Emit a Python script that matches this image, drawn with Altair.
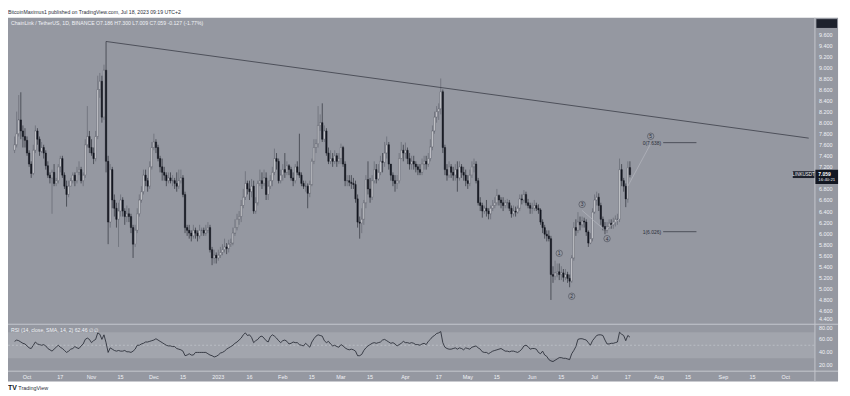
import altair as alt
import pandas as pd

# ---------------- data (LINK/USDT, 1D) ----------------
first_open = 7.50

close_sep = [7.60, 7.80, 8.05, 7.85, 7.75, 7.68]
high_sep = [7.75, 8.20, 8.50, 8.55, 7.95, 7.90]
low_sep = [7.45, 7.55, 7.75, 7.70, 7.55, 7.55]

close_oct = [7.45, 7.25, 7.08, 7.50, 7.85, 7.70, 7.48, 7.55, 7.45, 7.22, 7.05, 7.00, 7.10, 6.90, 6.95, 7.20,
             7.35, 7.05, 6.85, 6.70, 6.85, 6.95, 7.05, 6.95, 7.10, 7.15, 6.95, 7.05, 7.60, 7.75, 7.55]
high_oct = [7.75, 7.50, 7.30, 7.60, 7.95, 7.90, 7.75, 7.65, 7.60, 7.50, 7.30, 7.10, 7.15, 7.25, 7.00, 7.25,
            7.40, 7.40, 7.10, 6.95, 6.95, 7.00, 7.10, 7.10, 7.20, 7.30, 7.20, 7.10, 7.70, 8.30, 7.85]
low_oct = [7.40, 7.20, 7.00, 7.05, 7.45, 7.60, 7.40, 7.45, 7.35, 7.15, 7.00, 6.90, 6.35, 6.85, 6.85, 6.90,
           7.10, 7.00, 6.80, 6.48, 6.65, 6.85, 6.90, 6.85, 6.90, 7.05, 6.90, 6.85, 7.00, 7.55, 7.45]

close_nov = [7.45, 7.35, 7.75, 8.60, 8.75, 8.10, 8.95, 7.30, 6.20, 7.15, 6.60, 6.45, 6.25, 6.40, 6.60,
             6.40, 6.30, 6.35, 6.30, 6.10, 5.80, 6.05, 6.35, 6.60, 6.75, 7.05, 6.95, 6.85, 7.20, 7.55]
high_nov = [7.70, 7.55, 7.85, 8.85, 8.90, 8.85, 9.05, 9.47, 7.40, 7.25, 7.20, 6.70, 6.55, 6.55, 6.70,
            6.65, 6.45, 6.50, 6.45, 6.35, 6.15, 6.15, 6.45, 6.70, 6.85, 7.15, 7.15, 7.00, 7.30, 7.65]
low_nov = [7.40, 7.25, 7.30, 7.70, 8.45, 8.00, 8.05, 7.10, 5.80, 6.10, 6.45, 6.30, 6.10, 5.75, 6.30,
           6.30, 6.15, 6.20, 6.20, 6.00, 5.55, 5.75, 6.00, 6.30, 6.55, 6.70, 6.85, 6.75, 6.80, 7.15]

close_dec = [7.65, 7.55, 7.35, 7.20, 7.10, 7.05, 6.95, 7.00, 6.95, 6.95, 6.90, 6.85, 6.95, 7.00, 6.70, 6.10,
             6.05, 6.00, 5.95, 6.05, 6.00, 5.95, 6.05, 6.05, 6.00, 6.05, 6.10, 5.70, 5.55, 5.60, 5.55]
high_dec = [7.80, 7.70, 7.60, 7.40, 7.35, 7.20, 7.10, 7.10, 7.10, 7.05, 7.00, 7.10, 7.15, 7.15, 7.05, 6.75,
            6.15, 6.15, 6.05, 6.15, 6.10, 6.05, 6.15, 6.10, 6.10, 6.15, 6.20, 6.15, 5.75, 5.70, 5.65]
low_dec = [7.50, 7.45, 7.30, 7.10, 6.95, 6.95, 6.85, 6.90, 6.90, 6.85, 6.80, 6.75, 6.80, 6.90, 6.65, 6.00,
           5.95, 5.90, 5.85, 5.90, 5.90, 5.85, 5.90, 5.95, 5.95, 5.95, 6.00, 5.65, 5.42, 5.45, 5.45]

close_jan = [5.60, 5.65, 5.70, 5.75, 5.72, 5.80, 5.82, 6.00, 6.10, 6.25, 6.30, 6.50, 6.65, 6.90, 6.80, 6.75,
             6.85, 6.40, 6.55, 6.90, 6.95, 6.90, 7.00, 6.70, 6.85, 6.95, 7.10, 7.35, 7.30, 6.95, 7.05]
high_jan = [5.70, 5.75, 5.80, 5.90, 5.82, 5.88, 5.90, 6.10, 6.25, 6.35, 6.40, 6.60, 6.80, 7.12, 6.95, 6.95,
            6.98, 6.95, 6.65, 6.95, 7.15, 7.10, 7.15, 7.10, 6.95, 7.05, 7.20, 7.53, 7.45, 7.35, 7.15]
low_jan = [5.50, 5.55, 5.60, 5.65, 5.62, 5.65, 5.75, 5.78, 5.95, 6.05, 6.15, 6.20, 6.45, 6.60, 6.70, 6.60,
           6.65, 6.35, 6.35, 6.50, 6.85, 6.80, 6.85, 6.60, 6.60, 6.80, 6.85, 7.05, 7.15, 6.90, 6.90]

close_feb = [7.15, 7.10, 7.22, 7.15, 7.00, 6.95, 7.20, 7.10, 7.05, 6.90, 6.85, 6.85, 6.72, 6.88, 7.30, 7.55,
             7.62, 7.95, 8.00, 7.70, 7.85, 7.45, 7.30, 7.35, 7.30, 7.40, 7.30, 7.35]
high_feb = [7.25, 7.45, 7.30, 7.25, 7.20, 7.10, 7.25, 7.30, 7.80, 7.10, 6.95, 6.95, 6.90, 6.95, 7.35, 7.70,
            7.70, 8.30, 8.15, 8.35, 7.95, 7.90, 7.55, 7.50, 7.45, 7.50, 7.45, 7.45]
low_feb = [6.95, 7.00, 7.05, 7.05, 6.95, 6.85, 6.90, 7.05, 7.00, 6.85, 6.80, 6.75, 6.45, 6.65, 6.85, 7.25,
           7.45, 7.55, 7.85, 7.65, 7.65, 7.40, 7.25, 7.25, 7.20, 7.25, 7.20, 7.25]

close_mar = [7.55, 7.25, 6.95, 6.95, 6.92, 6.90, 6.88, 6.62, 6.20, 6.18, 6.25, 6.55, 6.97, 6.80, 6.65, 6.95,
             7.15, 6.98, 7.10, 7.30, 7.28, 7.45, 7.60, 7.25, 7.05, 6.95, 6.90, 6.95, 7.35, 7.50, 7.45]
high_mar = [7.62, 7.58, 7.30, 7.05, 7.05, 7.05, 7.00, 6.95, 6.70, 6.30, 6.45, 6.60, 7.05, 7.30, 7.00, 7.05,
            7.30, 7.25, 7.25, 7.40, 7.45, 7.65, 7.75, 7.65, 7.25, 7.10, 7.05, 7.05, 7.45, 7.65, 7.60]
low_mar = [7.25, 7.20, 6.85, 6.85, 6.85, 6.80, 6.80, 6.55, 6.10, 5.90, 6.00, 6.15, 6.45, 6.70, 6.55, 6.60,
           6.90, 6.90, 6.95, 7.05, 7.10, 7.20, 7.35, 7.15, 6.95, 6.85, 6.75, 6.80, 6.90, 7.35, 7.30]

close_apr = [7.50, 7.35, 7.25, 7.30, 7.25, 7.20, 7.15, 7.10, 7.25, 7.30, 7.25, 7.35, 7.56, 7.85, 8.10, 8.20,
             8.25, 8.56, 7.55, 7.15, 7.05, 7.20, 7.10, 7.05, 7.15, 7.00, 7.20, 7.10, 7.05, 6.95]
high_apr = [7.64, 7.55, 7.45, 7.40, 7.40, 7.30, 7.25, 7.25, 7.35, 7.40, 7.40, 7.45, 7.70, 7.95, 8.20, 8.30,
            8.35, 8.80, 8.60, 7.60, 7.25, 7.30, 7.25, 7.20, 7.25, 7.30, 7.30, 7.25, 7.20, 7.15]
low_apr = [7.35, 7.25, 7.15, 7.15, 7.15, 7.10, 7.05, 7.05, 7.05, 7.15, 7.15, 7.20, 7.30, 7.50, 7.80, 8.00,
           8.05, 8.15, 7.45, 7.05, 6.95, 7.00, 7.00, 6.95, 6.95, 6.75, 6.95, 7.00, 6.95, 6.85]

close_may = [6.90, 7.05, 7.20, 7.25, 6.95, 6.55, 6.50, 6.40, 6.45, 6.40, 6.35, 6.45, 6.50, 6.55, 6.68, 6.60,
             6.55, 6.50, 6.55, 6.55, 6.45, 6.35, 6.40, 6.38, 6.45, 6.62, 6.60, 6.70, 6.55, 6.50, 6.45]
high_may = [7.05, 7.15, 7.30, 7.35, 7.30, 7.00, 6.65, 6.55, 6.50, 6.60, 6.45, 6.50, 6.60, 6.65, 6.80, 6.70,
            6.65, 6.65, 6.60, 6.62, 6.60, 6.50, 6.50, 6.48, 6.50, 6.70, 6.70, 6.78, 6.75, 6.62, 6.55]
low_may = [6.80, 6.85, 7.00, 7.10, 6.90, 6.50, 6.40, 6.28, 6.35, 6.30, 6.25, 6.25, 6.40, 6.45, 6.50, 6.50,
           6.45, 6.40, 6.45, 6.45, 6.40, 6.28, 6.30, 6.30, 6.35, 6.40, 6.52, 6.55, 6.50, 6.45, 6.35]

close_jun = [6.45, 6.50, 6.45, 6.42, 6.20, 6.10, 5.98, 5.95, 5.90, 5.25, 5.22, 5.28, 5.30, 5.25, 5.28,
             5.20, 5.25, 5.18, 5.13, 5.55, 6.10, 6.05, 6.20, 6.15, 6.22, 6.20, 6.02, 5.82, 5.90, 6.38]
high_jun = [6.55, 6.60, 6.55, 6.52, 6.45, 6.25, 6.15, 6.05, 6.05, 5.95, 5.40, 5.50, 5.45, 5.45, 5.40,
            5.35, 5.35, 5.30, 5.25, 5.60, 6.20, 6.25, 6.38, 6.30, 6.30, 6.28, 6.25, 6.05, 6.00, 6.45]
low_jun = [6.35, 6.40, 6.40, 6.35, 6.15, 6.00, 5.90, 5.85, 5.85, 4.79, 5.10, 5.15, 5.20, 5.15, 5.15,
           5.12, 5.15, 5.10, 5.02, 5.10, 5.50, 5.95, 6.00, 6.05, 6.10, 6.10, 5.95, 5.75, 5.80, 5.85]

close_jul = [6.60, 6.65, 6.50, 6.25, 6.12, 6.05, 6.12, 6.18, 6.15, 6.20, 6.25, 6.25, 7.15, 6.95, 6.85, 6.62,
             7.186, 7.059]
high_jul = [6.70, 6.75, 6.72, 6.55, 6.30, 6.20, 6.20, 6.25, 6.25, 6.28, 6.32, 6.35, 7.35, 7.25, 7.00, 6.90,
            7.30, 7.30]
low_jul = [6.35, 6.50, 6.40, 6.15, 6.05, 5.98, 6.00, 6.08, 6.08, 6.08, 6.12, 6.15, 6.20, 6.85, 6.75, 6.47,
           6.55, 7.009]

rsi_values = [
    56, 58, 57, 55, 53, 52, 49, 46, 45, 50,
    55, 52, 51, 50, 51, 49, 45, 43, 41, 44,
    47, 50, 47, 45, 42, 39, 41, 44, 45, 48,
    46, 45, 49, 52, 59, 61, 59, 54, 57, 59,
    69, 67, 59, 66, 54, 39, 46, 44, 42, 41,
    42, 41, 41, 42, 40, 40, 39, 41, 44, 50,
    50, 52, 53, 55, 55, 56, 57, 58, 60, 58,
    56, 54, 52, 50, 49, 49, 48, 48, 45, 44,
    43, 41, 34, 35, 37, 35, 35, 39, 39, 39,
    39, 39, 39, 37, 35, 34, 32, 33, 35, 38,
    39, 41, 44, 46, 48, 50, 53, 55, 58, 61,
    66, 69, 65, 66, 62, 54, 57, 59, 63, 64,
    61, 57, 55, 63, 66, 64, 61, 57, 54, 57,
    58, 56, 52, 53, 55, 54, 54, 51, 50, 49,
    53, 50, 47, 55, 60, 64, 66, 65, 64, 57,
    54, 56, 52, 49, 50, 48, 47, 51, 49, 46,
    44, 43, 44, 43, 41, 34, 34, 36, 42, 46,
    49, 51, 53, 54, 53, 54, 55, 58, 59, 57,
    55, 53, 54, 52, 49, 51, 53, 56, 54, 54,
    53, 54, 53, 51, 51, 50, 52, 53, 51, 56,
    59, 63, 65, 68, 69, 71, 54, 47, 45, 44,
    44, 45, 46, 44, 46, 45, 43, 46, 45, 44,
    47, 48, 49, 46, 44, 40, 39, 39, 37, 39,
    41, 42, 43, 44, 45, 43, 41, 41, 40, 41,
    41, 40, 39, 41, 44, 49, 50, 48, 44, 45,
    45, 44, 39, 37, 41, 35, 33, 28, 26, 25,
    27, 29, 31, 31, 30, 30, 29, 28, 37, 42,
    48, 59, 60, 60, 59, 58, 54, 50, 57, 61,
    65, 66, 66, 65, 58, 52, 52, 53, 53, 54,
    55, 70, 67, 65, 57, 65, 62.46,
]

closes = (close_sep + close_oct + close_nov + close_dec + close_jan + close_feb + close_mar
          + close_apr + close_may + close_jun + close_jul)
highs = (high_sep + high_oct + high_nov + high_dec + high_jan + high_feb + high_mar
         + high_apr + high_may + high_jun + high_jul)
lows = (low_sep + low_oct + low_nov + low_dec + low_jan + low_feb + low_mar
        + low_apr + low_may + low_jun + low_jul)
assert len(closes) == len(highs) == len(lows) == len(rsi_values) == 297

dates = pd.date_range("2022-09-25", periods=len(closes), freq="D").strftime("%Y-%m-%d")
opens = [first_open] + closes[:-1]
df = pd.DataFrame({"date": dates, "open": opens, "high": highs, "low": lows,
                   "close": closes, "rsi": rsi_values})

# annotations (Elliott waves, fib levels, trend line)
wave_names = ["1", "2", "3", "4", "5"]
wave_dates = ["2023-06-14", "2023-06-20", "2023-06-25", "2023-07-07", "2023-07-28"]
wave_prices = [5.635, 4.857, 6.52, 5.90, 7.754]
fib_names = ["0(7.638)", "1(6.026)"]
fib_levels = [7.638, 6.026]
fib_start, fib_end, fib_label_date = "2023-08-03", "2023-08-19", "2023-08-02"
trend_dates = ["2022-11-08", "2023-10-12"]
trend_prices = [9.47, 7.72]
path_seg = [1, 1, 1, 2, 2]
path_order = [1, 2, 3, 1, 2]
path_dates = ["2023-06-25", "2023-07-06", "2023-07-13", "2023-07-17", "2023-07-28"]
path_prices = [6.41, 6.05, 6.26, 6.85, 7.62]

# 7.000 sits under the last-price tag in the reference, so it is not listed
price_ticks = [4.4, 4.6, 4.8, 5.0, 5.2, 5.4, 5.6, 5.8, 6.0, 6.2, 6.4, 6.6, 6.8, 7.2,
               7.4, 7.6, 7.8, 8.0, 8.2, 8.4, 8.6, 8.8, 9.0, 9.2, 9.4, 9.6]
rsi_ticks = [20, 40, 60, 80]
time_ticks = ["2022-10-01", "2022-10-17", "2022-11-01", "2022-11-15", "2022-12-01", "2022-12-15",
              "2023-01-01", "2023-01-16", "2023-02-01", "2023-02-15", "2023-03-01", "2023-03-15",
              "2023-04-01", "2023-04-17", "2023-05-01", "2023-05-15", "2023-06-01", "2023-06-15",
              "2023-07-01", "2023-07-17", "2023-08-01", "2023-08-15", "2023-09-01", "2023-09-15",
              "2023-10-01"]
time_labels = ["Oct", "17", "Nov", "15", "Dec", "15", "2023", "16", "Feb", "15", "Mar", "15",
               "Apr", "17", "May", "15", "Jun", "15", "Jul", "17", "Aug", "15", "Sep", "15", "Oct"]

# ---------------- layout (reference pixels -> chart pixels) ----------------
SXF = 842 / 847
SYF = 388 / 393


def X(v):
    return (v - 3) * SXF


def Y(v):
    return (v - 3) * SYF


FONT = "Liberation Sans"
PANE = "#9598a1"
BAND = "#a2a5ad"
SEP = "#c4c7ce"
UP_BODY = "#e8e9ec"
UP_EDGE = "#4a4d57"
DN_BODY = "#141720"
UP_WICK = "#5d606b"
DN_WICK = "#1d2029"
INK = "#1e222d"
LIGHT = "#f0f2f6"

T0 = pd.Timestamp("2022-10-01", tz="UTC")
PX_DAY = 2.1375


def ref_x_ms(rx):
    return int((T0 + pd.Timedelta(days=(rx - 17.5) / PX_DAY)).value // 10**6)


xscale = alt.Scale(type="utc", domain=[ref_x_ms(3), ref_x_ms(822)], range=[X(3), X(822)])
P_HI = 9.6 + (28 - 11) / 56.48
P_LO = 9.6 - (324 - 28) / 56.48
pscale = alt.Scale(domain=[P_LO, P_HI], range=[Y(324), Y(11)], zero=False, nice=False)
R_LO = 80 - (372.5 - 326) * 1.5
R_HI = 80 + (326 - 325.5) * 1.5
rscale = alt.Scale(domain=[R_LO, R_HI], range=[Y(372.5), Y(325.5)], zero=False, nice=False)

one = pd.DataFrame({"k": [0]})


def xn(field="date:T"):
    return alt.X(field, scale=xscale, axis=None)


def py(field):
    return alt.Y(field, scale=pscale, axis=None)


def ptext(txt, rx, ry, size=5.5, color=INK, weight="normal", align="left"):
    return alt.Chart(one).mark_text(text=txt, fontSize=size, font=FONT, color=color, fontWeight=weight,
                                    align=align, baseline="middle").encode(
        x=alt.value(X(rx)), y=alt.value(Y(ry)))


def prect(x1, y1, x2, y2, color):
    return alt.Chart(one).mark_rect(color=color).encode(
        x=alt.value(X(x1)), x2=alt.value(X(x2)), y=alt.value(Y(y1)), y2=alt.value(Y(y2)))


def prule(x1, y1, x2, y2, color, w=1.0):
    return alt.Chart(one).mark_rule(color=color, strokeWidth=w).encode(
        x=alt.value(X(x1)), x2=alt.value(X(x2)), y=alt.value(Y(y1)), y2=alt.value(Y(y2)))


frame = prect(3, 11, 846, 383, PANE)

band = alt.Chart(pd.DataFrame({"top": [70], "bottom": [30]})).mark_rect(color=BAND).encode(
    x=alt.value(X(3)), x2=alt.value(X(822)),
    y=alt.Y("top:Q", scale=rscale, axis=None), y2="bottom:Q")
mid = alt.Chart(pd.DataFrame({"level": [50]})).mark_rule(color="#c9ccd3", strokeWidth=0.6,
                                                         strokeDash=[2, 2]).encode(
    x=alt.value(X(3)), x2=alt.value(X(822)), y=alt.Y("level:Q", scale=rscale, axis=None))

seps = [prule(3, 324.5, 846, 324.5, SEP), prule(3, 372.5, 846, 372.5, SEP),
        prule(822.5, 11, 822.5, 383, SEP)]

up_cond = "datum.close >= datum.open"
wicks = alt.Chart(df).mark_rule(strokeWidth=0.6).encode(
    x=xn(), y=py("low:Q"), y2="high:Q",
    color=alt.condition(up_cond, alt.value(UP_WICK), alt.value(DN_WICK)))

p_axis = alt.Axis(orient="right", values=price_ticks, format=".3f", grid=False, domain=False,
                  ticks=False, labelFontSize=5.5, labelColor=LIGHT, labelFont=FONT, labelPadding=4,
                  labelOverlap=False, labelFlush=False, labelBound=False, title=None, zindex=2,
                  labelBaseline={"condition": {"test": "datum.value < 4.5", "value": "bottom"},
                                 "value": "middle"})
r_axis = alt.Axis(orient="right", values=rsi_ticks, format=".2f", grid=False, domain=False,
                  ticks=False, labelFontSize=5.5, labelColor=LIGHT, labelFont=FONT, labelPadding=4,
                  labelOverlap=False, labelFlush=False, labelBound=False, title=None, zindex=2,
                  labelBaseline={"condition": {"test": "datum.value > 70", "value": "top"},
                                 "value": "middle"})

bodies = alt.Chart(df).mark_bar(size=1.4, strokeWidth=0.45).encode(
    x=xn(),
    y=alt.Y("open:Q", scale=pscale, axis=p_axis), y2="close:Q",
    fill=alt.condition(up_cond, alt.value(UP_BODY), alt.value(DN_BODY)),
    stroke=alt.condition(up_cond, alt.value(UP_EDGE), alt.value(DN_BODY)))

rsi_line = alt.Chart(df).mark_line(color=INK, strokeWidth=0.8).encode(
    x=xn(), y=alt.Y("rsi:Q", scale=rscale, axis=r_axis))

time_text = alt.Chart(pd.DataFrame({"date": time_ticks, "label": time_labels})).mark_text(
    fontSize=5.5, font=FONT, color=LIGHT, baseline="middle").encode(
    x=xn(), y=alt.value(Y(378)), text="label:N")

trend = alt.Chart(pd.DataFrame({"date": trend_dates, "price": trend_prices})).mark_line(
    color="#3a3d47", strokeWidth=0.8).encode(x=xn(), y=py("price:Q"))

paths = alt.Chart(pd.DataFrame({"date": path_dates, "price": path_prices, "seg": path_seg,
                                "o": path_order})).mark_line(color="#b9bcc4", strokeWidth=0.6).encode(
    x=xn(), y=py("price:Q"), detail="seg:N", order="o:Q")

waves_df = pd.DataFrame({"date": wave_dates, "price": wave_prices, "name": wave_names})
wave_circles = alt.Chart(waves_df).mark_point(shape="circle", filled=False, size=42, color="#2a2e39",
                                              strokeWidth=0.6).encode(x=xn(), y=py("price:Q"))
wave_text = alt.Chart(waves_df).mark_text(fontSize=5, font=FONT, color="#2a2e39").encode(
    x=xn(), y=py("price:Q"), text="name:N")

fib_df = pd.DataFrame({"start": [fib_start] * 2, "end": [fib_end] * 2, "lab": [fib_label_date] * 2,
                       "price": fib_levels, "name": fib_names})
fib_lines = alt.Chart(fib_df).mark_rule(color="#3a3d47", strokeWidth=0.8).encode(
    x=xn("start:T"), x2="end:T", y=py("price:Q"))
fib_text = alt.Chart(fib_df).mark_text(fontSize=5, font=FONT, color="#2a2e39", align="right").encode(
    x=xn("lab:T"), y=py("price:Q"), text="name:N")

texts = [
    ptext("BitcoinMaximus1 published on TradingView.com, Jul 18, 2023 09:19 UTC+2", 3, 5.5, 5.2, "#2a2e39"),
    ptext("ChainLink / TetherUS, 1D, BINANCE  O7.186  H7.300  L7.009  C7.059  -0.127 (-1.77%)", 6, 16, 5.2, LIGHT),
    ptext("RSI (14, close, SMA, 14, 2)  62.46  \u2205  \u2205", 6, 330, 5.2, LIGHT),
    prect(824, 12.5, 845, 21.5, "#1e222d"),
    prect(800, 168, 822, 175, "#1e222d"),
    ptext("LINKUSDT", 811, 171.5, 4.6, LIGHT, align="center"),
    prect(823, 166.5, 846, 181, "#131722"),
    ptext("7.059", 826, 170.5, 5.0, "#ffffff", "bold"),
    ptext("16:40:21", 826, 177, 4.4, LIGHT),
    ptext("TV", 3, 390, 7, "#131722", "bold"),
    ptext("TradingView", 13.5, 390, 5.5, "#2a2e39"),
]

layers = [frame, band, mid] + seps + [wicks, bodies, rsi_line, time_text, trend, paths, fib_lines,
                                      fib_text, wave_circles, wave_text] + texts

chart = alt.layer(*layers).resolve_scale(y="independent").properties(
    width=X(822), height=Y(372.5),
    padding={"left": 0, "top": 0, "right": 842 - X(822), "bottom": 388 - Y(372.5)},
    autosize=alt.AutoSizeParams(type="none"),
    background="white",
).configure_view(stroke=None)

chart.save("out.html", embed_options={"renderer": "svg", "actions": False})
